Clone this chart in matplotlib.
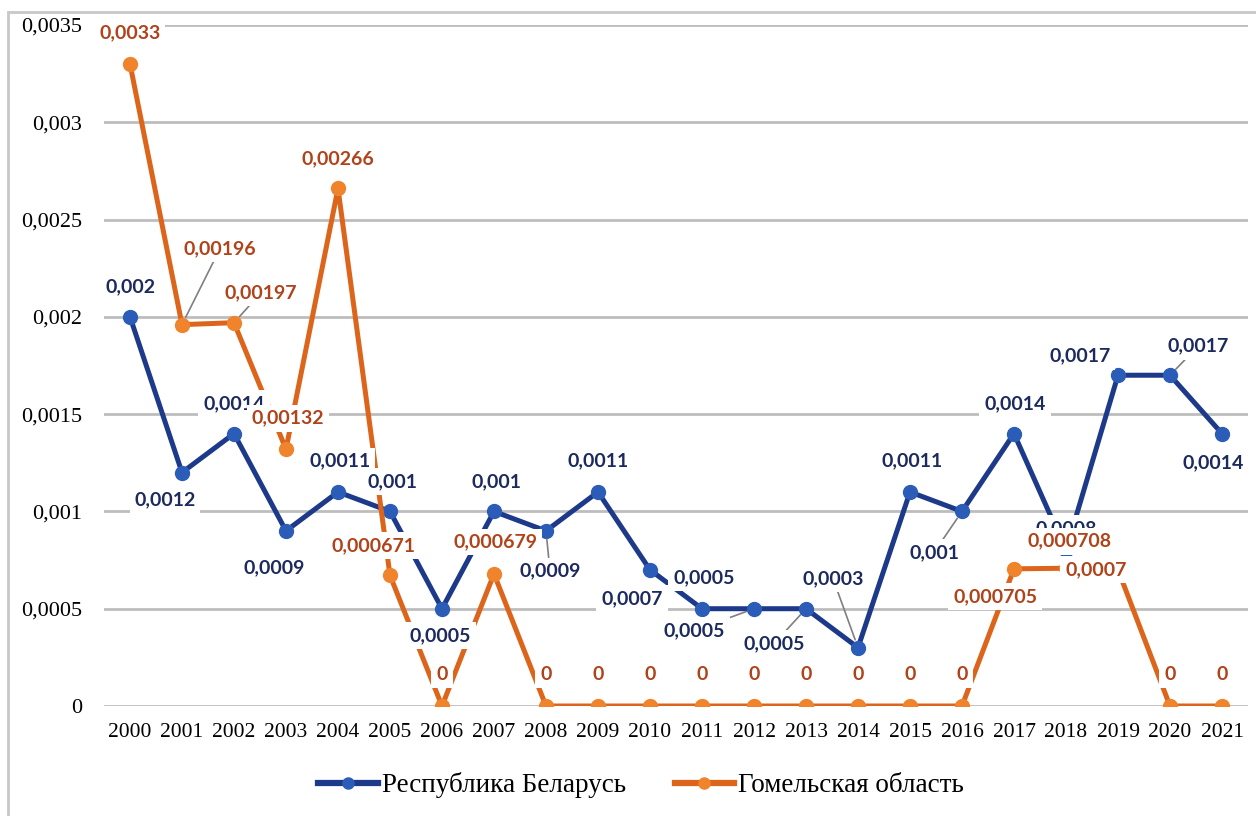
import matplotlib.pyplot as plt
from matplotlib.patches import Rectangle
from matplotlib.ticker import FuncFormatter, MultipleLocator

years = [str(y) for y in range(2000, 2022)]
belarus = [0.002, 0.0012, 0.0014, 0.0009, 0.0011, 0.001, 0.0005, 0.001, 0.0009, 0.0011,
           0.0007, 0.0005, 0.0005, 0.0005, 0.0003, 0.0011, 0.001, 0.0014, 0.0008, 0.0017,
           0.0017, 0.0014]
gomel = [0.0033, 0.00196, 0.00197, 0.00132, 0.00266, 0.000671, 0, 0.000679, 0, 0,
         0, 0, 0, 0, 0, 0, 0, 0.000705, 0.000708, 0.0007,
         0, 0]
belarus_labels = ["0,002", "0,0012", "0,0014", "0,0009", "0,0011", "0,001", "0,0005", "0,001",
                  "0,0009", "0,0011", "0,0007", "0,0005", "0,0005", "0,0005", "0,0003", "0,0011",
                  "0,001", "0,0014", "0,0008", "0,0017", "0,0017", "0,0014"]
gomel_labels = ["0,0033", "0,00196", "0,00197", "0,00132", "0,00266", "0,000671", "0", "0,000679",
                "0", "0", "0", "0", "0", "0", "0", "0", "0", "0,000705", "0,000708", "0,0007",
                "0", "0"]

# label offsets in pixels (dx, dy), positive dy = up; True -> leader line
blue_off = [(0, 30, False), (-17, -27, False), (0, 30, False), (-12, -37, False), (2, 31, False),
            (2, 30, False), (-2, -27, False), (2, 30, False), (4, -40, True), (0, 31, False),
            (-18, -29, False), (2, 31, False), (-60, -22, True), (-32, -35, True), (-25, 69, True),
            (2, 31, False), (-28, -41, True), (1, 30, False), (0, 22, False), (-38, 19, False),
            (28, 29, True), (-9, -29, False)]
orange_off = [(0, 31, False), (38, 76, True), (27, 30, True), (2, 31, False), (0, 30, False),
              (-17, 30, False), (0, 31, False), (1, 32, False), (0, 31, False), (0, 31, False),
              (0, 31, False), (0, 31, False), (0, 31, False), (0, 31, False), (0, 31, False),
              (0, 31, False), (0, 31, False), (-19, -28, False), (4, 27, False), (-22, 0, False),
              (0, 31, False), (0, 31, False)]

blue_line = "#1d3a8a"
blue_mark = "#2b5db8"
orange_line = "#dc651b"
orange_mark = "#f0842c"
blue_text = "#1c2a5e"
orange_text = "#b0431a"

fig = plt.figure(figsize=(12.56, 8.16), dpi=100)
ax = fig.add_axes([104 / 1256, 1 - 706 / 816, 1144 / 1256, 681 / 816])

x = range(len(years))
ax.plot(x, belarus, color=blue_line, lw=3.6, marker="o", ms=10, mfc=blue_mark,
        mec=blue_mark, label="Республика Беларусь", zorder=3)
ax.plot(x, gomel, color=orange_line, lw=3.6, marker="o", ms=10, mfc=orange_mark,
        mec=orange_mark, label="Гомельская область", zorder=4)


def add_labels(vals, labels, offs, color, z):
    for i, (v, t, (dx, dy, lead)) in enumerate(zip(vals, labels, offs)):
        kw = {}
        if lead:
            kw["arrowprops"] = dict(arrowstyle="-", color="#7f7f7f", lw=1.2,
                                    shrinkA=0, shrinkB=6)
        ax.annotate(t, (i, v), xytext=(dx, dy), textcoords="offset pixels",
                    ha="center", va="center", fontsize=14, fontweight="bold",
                    family="Lato", color=color, zorder=z,
                    bbox=dict(boxstyle="square,pad=0.25", fc="white", ec="none"), **kw)


add_labels(belarus, belarus_labels, blue_off, blue_text, 5)
add_labels(gomel, gomel_labels, orange_off, orange_text, 6)

ax.set_xlim(-0.5, len(years) - 0.5)
ax.set_ylim(0, 0.0035)
ax.set_xticks(list(x))
ax.set_xticklabels(years, family="Liberation Serif", fontsize=15.5)
ax.yaxis.set_major_locator(MultipleLocator(0.0005))
ax.yaxis.set_major_formatter(FuncFormatter(
    lambda v, p: "0" if v == 0 else ("%g" % round(v, 5)).replace(".", ",")))
for lab in ax.get_yticklabels():
    lab.set_family("Liberation Serif")
    lab.set_fontsize(16)
ax.tick_params(axis="x", length=0, pad=12)
ax.tick_params(axis="y", length=0, pad=16)
ax.grid(axis="y", color="#bdbdbd", lw=2)
ax.set_axisbelow(True)
for s in ax.spines.values():
    s.set_visible(False)

fig.patches.append(Rectangle((8 / 1256, -0.1), 1.2, 1 - 12 / 816 + 0.1,
                             transform=fig.transFigure, fill=False,
                             ec="#c8c8c8", lw=2))

leg = fig.legend(loc="center", bbox_to_anchor=(641 / 1256, 1 - 785 / 816), ncol=2,
                 frameon=False, prop={"family": "Liberation Serif", "size": 19.5},
                 handlelength=2.2, handletextpad=0.15, columnspacing=1.8,
                 markerscale=0.8)
for h in leg.legend_handles:
    h.set_linewidth(4.5)

fig.savefig("out.png", dpi=100)
